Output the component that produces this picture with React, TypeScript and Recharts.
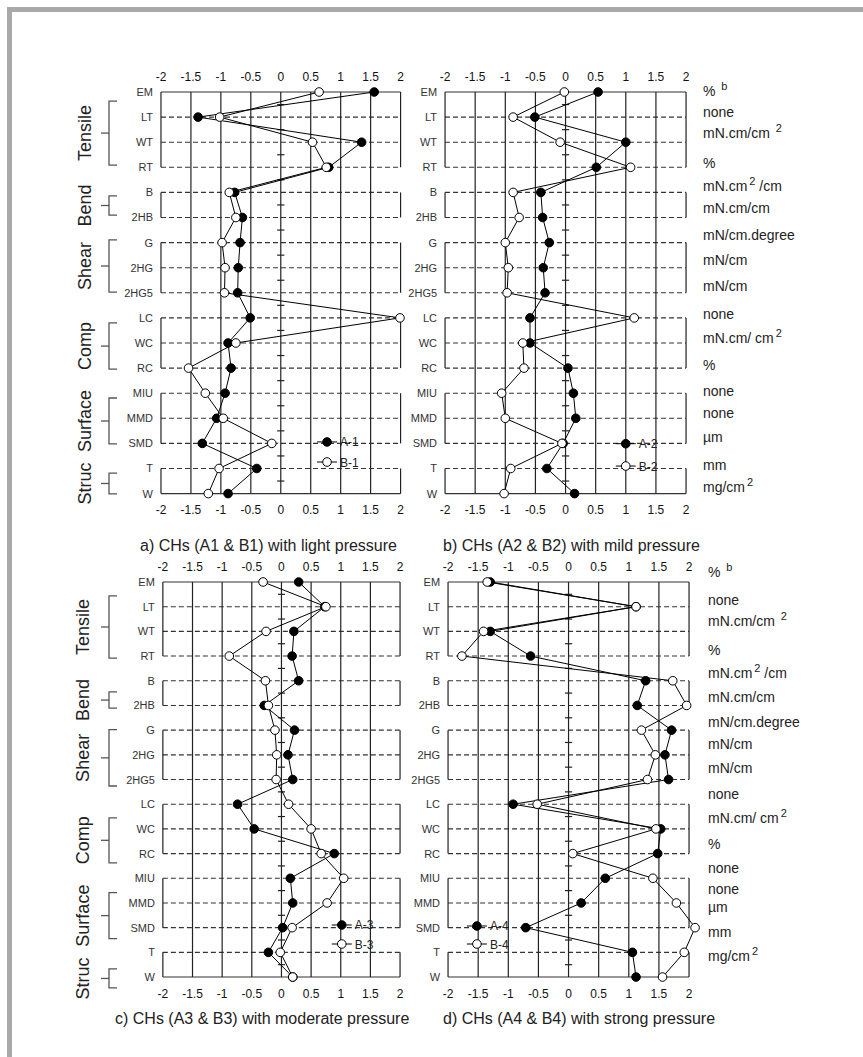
import React from 'react';
import { ScatterChart, Scatter, XAxis, YAxis, ReferenceLine } from 'recharts';

// row order of the Kawabata profile
const rows = ['EM', 'LT', 'WT', 'RT', 'B', '2HB', 'G', '2HG', '2HG5', 'LC', 'WC', 'RC', 'MIU', 'MMD', 'SMD', 'T', 'W'];
const xTicks = [-2, -1.5, -1, -0.5, 0, 0.5, 1, 1.5, 2];
const gridX = [-1.5, -1, -0.5, 0, 0.5, 1, 1.5];
const groupNames = ['Tensile', 'Bend', 'Shear', 'Comp', 'Surface', 'Struc'];
const groupRows = [[0, 3], [4, 5], [6, 8], [9, 11], [12, 14], [15, 16]];
const units = ['% ^{b}', 'none', 'mN.cm/cm ^{2}', '%', 'mN.cm^{2} /cm', 'mN.cm/cm', 'mN/cm.degree', 'mN/cm', 'mN/cm',
  'none', 'mN.cm/ cm^{2}', '%', 'none', 'none', 'µm', 'mm', 'mg/cm^{2}'];

// values (SD units)
const a1 = [1.56, -1.38, 1.35, 0.8, -0.77, -0.64, -0.68, -0.71, -0.72, -0.51, -0.88, -0.83, -0.93, -1.07, -1.31, -0.4, -0.88];
const b1 = [0.64, -1.02, 0.53, 0.76, -0.86, -0.75, -0.98, -0.93, -0.94, 1.99, -0.75, -1.54, -1.26, -0.96, -0.15, -1.03, -1.21];
const a2 = [0.54, -0.51, 1.0, 0.51, -0.41, -0.38, -0.27, -0.37, -0.34, -0.59, -0.59, 0.04, 0.13, 0.17, -0.04, -0.31, 0.15];
const b2 = [-0.02, -0.87, -0.09, 1.08, -0.87, -0.77, -1.0, -0.95, -0.97, 1.14, -0.71, -0.69, -1.06, -1.0, -0.06, -0.91, -1.02];
const a3 = [0.29, 0.73, 0.21, 0.18, 0.29, -0.29, 0.22, 0.11, 0.19, -0.74, -0.46, 0.89, 0.15, 0.19, 0.02, -0.22, 0.19];
const b3 = [-0.31, 0.75, -0.26, -0.88, -0.27, -0.22, -0.11, -0.08, -0.09, 0.12, 0.5, 0.67, 1.05, 0.77, 0.18, -0.02, 0.19];
const a4 = [-1.3, 1.12, -1.3, -0.63, 1.28, 1.14, 1.71, 1.6, 1.66, -0.92, 1.53, 1.48, 0.61, 0.21, -0.71, 1.06, 1.12];
const b4 = [-1.35, 1.12, -1.41, -1.77, 1.73, 1.96, 1.21, 1.44, 1.31, -0.52, 1.45, 0.07, 1.4, 1.79, 2.1, 1.92, 1.56];

const FONT = '"Liberation Sans", Arial, sans-serif';
const PAD = 0.2;
const ML = 100, MR = 170, MT = 30, MB = 30;
const AX = 20; // axis band size, taken out of the margins

const panels = [
  { geo: { x0: 160.5, y0: 92.3, u: 59.9, rh: 25.1 }, a: a1, b: b1, names: ['A-1', 'B-1'],
    title: 'a) CHs (A1 & B1) with light pressure', titleX: 140, titleY: 550.5, legend: [0.78, 13.93, 14.73],
    brackets: [[0.35, 2.9], [4.13, 4.89], [5.88, 7.96], [9.19, 11.03], [12.18, 14.01], [15.17, 16]], groupX: 85 },
  { geo: { x0: 445, y0: 92.3, u: 60.25, rh: 25.1 }, a: a2, b: b2, names: ['A-2', 'B-2'],
    title: 'b) CHs (A2 & B2) with mild pressure', titleX: 443, titleY: 550.5, legend: [1.0, 14.0, 14.89],
    unitDx: 17, unitDy: [4, 0, -4, 1, -1, -4, -3, -3, -2, 1, 0, 2, 3, 0, -1, 2, -2] },
  { geo: { x0: 162.7, y0: 582.3, u: 59.3, rh: 24.69 }, a: a3, b: b3, names: ['A-3', 'B-3'],
    title: 'c) CHs (A3 & B3) with moderate pressure', titleX: 115, titleY: 1023.5, legend: [1.02, 13.88, 14.65],
    brackets: [[0.55, 3.07], [4.44, 5.1], [5.97, 8.25], [9.54, 11.36], [12.57, 14.43], [15.66, 16.43]], groupX: 83 },
  { geo: { x0: 448, y0: 582.3, u: 60.25, rh: 24.69 }, a: a4, b: b4, names: ['A-4', 'B-4'],
    title: 'd) CHs (A4 & B4) with strong pressure', titleX: 443, titleY: 1023.5, legend: [-1.52, 13.92, 14.65],
    unitDx: 19, unitDy: [-5, -2, -5, -1, -3, -3, -3, -6, -7, -5, -6, -5, -5, -9, -16, -15, -16] },
];

const dot = (filled: boolean) => (p: any) => (
  <circle cx={p.cx} cy={p.cy} r={4.3} fill={filled ? '#000' : '#fff'} stroke="#000" strokeWidth={1} />
);
const noDot = () => <g />;

const RowTick = (p: any) => (
  <text x={p.x + p.shift} y={p.y} dy={4} textAnchor="end" fontSize={11} fontFamily={FONT} fill="#333">
    {rows[p.payload.value]}
  </text>
);

const UnitTick = (p: any) => {
  const i = p.payload.value;
  const parts = units[i].split(/(\^\{[^}]*\})/).filter(Boolean);
  let up = false;
  return (
    <text x={p.x + p.shift} y={p.y + (p.dys[i] || 0)} dy={5} fontSize={14} fontFamily={FONT} fill="#222">
      {parts.map((s: string, k: number) => {
        if (s.startsWith('^{')) {
          up = true;
          return <tspan key={k} dy={-6} dx={2} fontSize={11}>{s.slice(2, -1)}</tspan>;
        }
        const dy = up ? 6 : 0;
        up = false;
        return <tspan key={k} dy={dy}>{s}</tspan>;
      })}
    </text>
  );
};

function Panel({ cfg }: { cfg: any }) {
  const { x0, y0, u, rh } = cfg.geo;
  const plotW = (4 + 2 * PAD) * u;
  const width = ML + plotW + MR;
  const height = MT + 16 * rh + MB;
  const pts = (vals: number[]) => vals.map((v, i) => ({ x: v, y: i }));
  const ids = { xAxisId: 'b', yAxisId: 'r' };
  const tickStyle = { fontSize: 12, fill: '#111', fontFamily: FONT };
  const rowTicks = rows.map((_, i) => i);
  return (
    <div style={{ position: 'absolute', left: x0 - PAD * u - ML, top: y0 - MT, width, height }}>
      <ScatterChart width={width} height={height}
        margin={{ top: MT - AX, right: MR - (cfg.unitDy ? AX : 0), bottom: MB - AX, left: ML - AX }}>
        <XAxis xAxisId="b" type="number" dataKey="x" domain={[-2 - PAD, 2 + PAD]} ticks={xTicks} interval={0}
          orientation="bottom" height={AX} axisLine={false} tickLine={false} tickSize={0} tickMargin={12} tick={tickStyle} />
        <XAxis xAxisId="t" type="number" dataKey="x" domain={[-2 - PAD, 2 + PAD]} ticks={xTicks} interval={0}
          orientation="top" height={AX} axisLine={false} tickLine={false} tickSize={0} tickMargin={11} tick={tickStyle} />
        <YAxis yAxisId="r" type="number" dataKey="y" domain={[0, 16]} reversed ticks={rowTicks} interval={0}
          width={AX} axisLine={false} tickLine={false} tickSize={0} tickMargin={0}
          tick={(p: any) => <RowTick {...p} shift={PAD * u - 8} />} />
        {cfg.unitDy && (
          <YAxis yAxisId="u" orientation="right" type="number" dataKey="y" domain={[0, 16]} reversed ticks={rowTicks}
            interval={0} width={AX} axisLine={false} tickLine={false} tickSize={0} tickMargin={0}
            tick={(p: any) => <UnitTick {...p} shift={-PAD * u + cfg.unitDx} dys={cfg.unitDy} />} />
        )}
        {rows.map((_, i) => (
          <ReferenceLine key={'h' + i} {...ids} segment={[{ x: -2, y: i }, { x: 2, y: i }]} stroke="#333"
            strokeWidth={1.1} strokeDasharray={i === 0 || i === 16 ? undefined : '5 3'} />
        ))}
        {gridX.map(v => (
          <ReferenceLine key={'v' + v} {...ids} x={v} stroke="#222" strokeWidth={1.2} />
        ))}
        {groupRows.map(([s, e]) => [-2, 2].map(side => (
          <ReferenceLine key={'s' + s + side} {...ids} segment={[{ x: side, y: s }, { x: side, y: e }]} stroke="#222" strokeWidth={1.2} />
        )))}
        {rows.slice(1).map((_, i) => (
          <ReferenceLine key={'z' + i} {...ids} segment={[{ x: -0.06, y: i + 0.5 }, { x: 0.06, y: i + 0.5 }]} stroke="#222" strokeWidth={1.2} />
        ))}
        {/* invisible series so the top axis and the unit axis get scales */}
        <Scatter xAxisId="t" yAxisId={cfg.unitDy ? 'u' : 'r'} data={pts(cfg.a)} shape={noDot} isAnimationActive={false} />
        <Scatter {...ids} data={pts(cfg.a)} shape={dot(true)} line={{ stroke: '#000', strokeWidth: 1 }} isAnimationActive={false} />
        <Scatter {...ids} data={pts(cfg.b)} shape={dot(false)} line={{ stroke: '#000', strokeWidth: 1 }} isAnimationActive={false} />
      </ScatterChart>
    </div>
  );
}

function Overlay() {
  return (
    <svg width={863} height={1057} style={{ position: 'absolute', left: 0, top: 0, pointerEvents: 'none' }}>
      {panels.map((cfg: any, pi) => {
        const { x0, y0, u, rh } = cfg.geo;
        const zero = x0 + 2 * u;
        const lx = zero + cfg.legend[0] * u;
        return (
          <g key={pi}>
            <text x={cfg.titleX} y={cfg.titleY} fontSize={16} fontFamily={FONT} fill="#222">{cfg.title}</text>
            {cfg.names.map((n: string, k: number) => {
              const ly = y0 + cfg.legend[k + 1] * rh;
              return (
                <g key={n}>
                  <line x1={lx - 10} x2={lx + 10} y1={ly} y2={ly} stroke="#000" strokeWidth={1} />
                  <circle cx={lx} cy={ly} r={4.3} fill={k === 0 ? '#000' : '#fff'} stroke="#000" />
                  <text x={lx + 13} y={ly + 4.5} fontSize={12} fontFamily={FONT} fill="#222">{n}</text>
                </g>
              );
            })}
            {cfg.brackets && cfg.brackets.map(([s, e]: number[], gi: number) => {
              const t = y0 + s * rh, b = y0 + e * rh, m = (t + b) / 2;
              return (
                <g key={gi} stroke="#555" strokeWidth={1.3} fill="none">
                  <polyline points={`117,${t} 109,${t} 109,${b} 117,${b}`} />
                  <line x1={101} x2={109} y1={m} y2={m} />
                  <text x={cfg.groupX} y={m} transform={`rotate(-90 ${cfg.groupX} ${m})`} textAnchor="middle"
                    dy={6} fontSize={18} fontFamily={FONT} fill="#222" stroke="none">{groupNames[gi]}</text>
                </g>
              );
            })}
          </g>
        );
      })}
    </svg>
  );
}

export default function App() {
  return (
    <div style={{ position: 'absolute', left: 0, top: 0, width: 863, height: 1057, background: '#fff', overflow: 'hidden' }}>
      <div style={{ position: 'absolute', left: 7, top: 7, width: 856, height: 5, background: '#a9a9a9' }} />
      <div style={{ position: 'absolute', left: 7, top: 7, width: 5, height: 1050, background: '#a9a9a9' }} />
      {panels.map((cfg, i) => <Panel key={i} cfg={cfg} />)}
      <Overlay />
    </div>
  );
}
